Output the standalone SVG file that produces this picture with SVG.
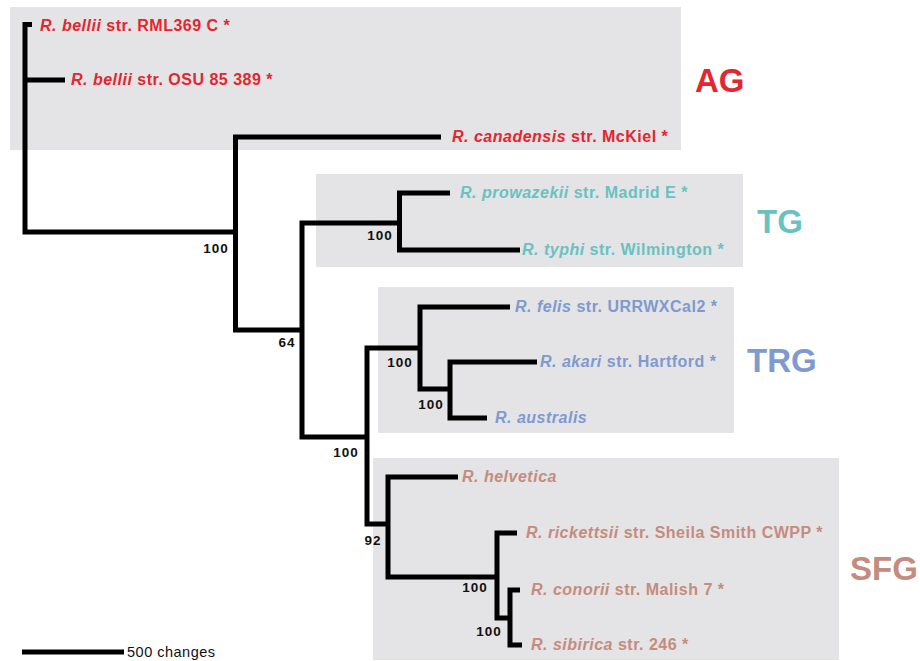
<svg xmlns="http://www.w3.org/2000/svg" width="920" height="661" viewBox="0 0 920 661">
<style>
text{font-family:"Liberation Sans",Arial,Helvetica,sans-serif}
.box{fill:#e4e3e5}
.leaf{font-size:16px;font-weight:bold;letter-spacing:0.5px}
.it{font-style:italic}
.grp{font-size:33px;font-weight:bold}
.bs{font-size:13.5px;font-weight:bold;letter-spacing:1px;fill:#111;text-anchor:middle}
.ag{fill:#e3262f}
.tg{fill:#68c2c1}
.trg{fill:#7e9ace}
.sfg{fill:#c48c7e}
.br{fill:none;stroke:#000;stroke-width:5;stroke-linejoin:miter;stroke-linecap:butt}
</style>
<g id="clade-boxes">
<rect class="box" x="10" y="7" width="671" height="143"/>
<rect class="box" x="316" y="174" width="427" height="93"/>
<rect class="box" x="378" y="287" width="356" height="146"/>
<rect class="box" x="373" y="458" width="466" height="202"/>
</g>
<g id="connectors">
<path class="br" d="M32 24.5 H25 V232 H235.5"/>
<path class="br" d="M25 80 H65"/>
<path class="br" d="M441 137 H235.5 V330 H302"/>
<path class="br" d="M400 223 H302 V437 H367"/>
<path class="br" d="M450 193 H399.5 V250 H520"/>
<path class="br" d="M420 348 H367 V524 H388"/>
<path class="br" d="M510 307 H420 V389 H450"/>
<path class="br" d="M537 362 H450 V418 H487"/>
<path class="br" d="M458 477 H388 V577 H497"/>
<path class="br" d="M517 533 H497 V618 H510"/>
<path class="br" d="M520 590 H510 V645 H522"/>
</g>
<g id="bootstrap">
<text class="bs" x="216" y="253">100</text>
<text class="bs" x="287" y="347">64</text>
<text class="bs" x="346" y="457">100</text>
<text class="bs" x="380" y="240">100</text>
<text class="bs" x="400" y="367">100</text>
<text class="bs" x="431" y="409">100</text>
<text class="bs" x="373" y="545">92</text>
<text class="bs" x="475" y="592">100</text>
<text class="bs" x="489" y="636">100</text>
</g>
<g id="leaf-bellii-RML369"><text class="leaf ag" x="40" y="31"><tspan class="it">R. bellii</tspan> str. RML369 C *</text></g>
<g id="leaf-bellii-OSU"><text class="leaf ag" x="71" y="85"><tspan class="it">R. bellii</tspan> str. OSU 85 389 *</text></g>
<g id="leaf-canadensis"><text class="leaf ag" x="452" y="142"><tspan class="it">R. canadensis</tspan> str. McKiel *</text></g>
<g id="leaf-prowazekii"><text class="leaf tg" x="460" y="198"><tspan class="it">R. prowazekii</tspan> str. Madrid E *</text></g>
<g id="leaf-typhi"><text class="leaf tg" x="522" y="255"><tspan class="it">R. typhi</tspan> str. Wilmington *</text></g>
<g id="leaf-felis"><text class="leaf trg" x="515" y="312"><tspan class="it">R. felis</tspan> str. URRWXCal2 *</text></g>
<g id="leaf-akari"><text class="leaf trg" x="540" y="367"><tspan class="it">R. akari</tspan> str. Hartford *</text></g>
<g id="leaf-australis"><text class="leaf trg" x="495" y="423"><tspan class="it">R. australis</tspan></text></g>
<g id="leaf-helvetica"><text class="leaf sfg" x="462" y="482"><tspan class="it">R. helvetica</tspan></text></g>
<g id="leaf-rickettsii"><text class="leaf sfg" x="526" y="538"><tspan class="it">R. rickettsii</tspan> str. Sheila Smith CWPP *</text></g>
<g id="leaf-conorii"><text class="leaf sfg" x="531" y="595"><tspan class="it">R. conorii</tspan> str. Malish 7 *</text></g>
<g id="leaf-sibirica"><text class="leaf sfg" x="531" y="650"><tspan class="it">R. sibirica</tspan> str. 246 *</text></g>
<g id="group-AG"><text class="grp ag" x="695" y="92">AG</text></g>
<g id="group-TG"><text class="grp tg" x="757" y="233">TG</text></g>
<g id="group-TRG"><text class="grp trg" x="747" y="372">TRG</text></g>
<g id="group-SFG"><text class="grp sfg" x="850" y="580">SFG</text></g>
<g id="scale-bar">
<line x1="22" y1="652" x2="124" y2="652" stroke="#000" stroke-width="5"/>
<text x="127" y="657" font-size="14.5" letter-spacing="0.5" fill="#111">500 changes</text>
</g>
</svg>
